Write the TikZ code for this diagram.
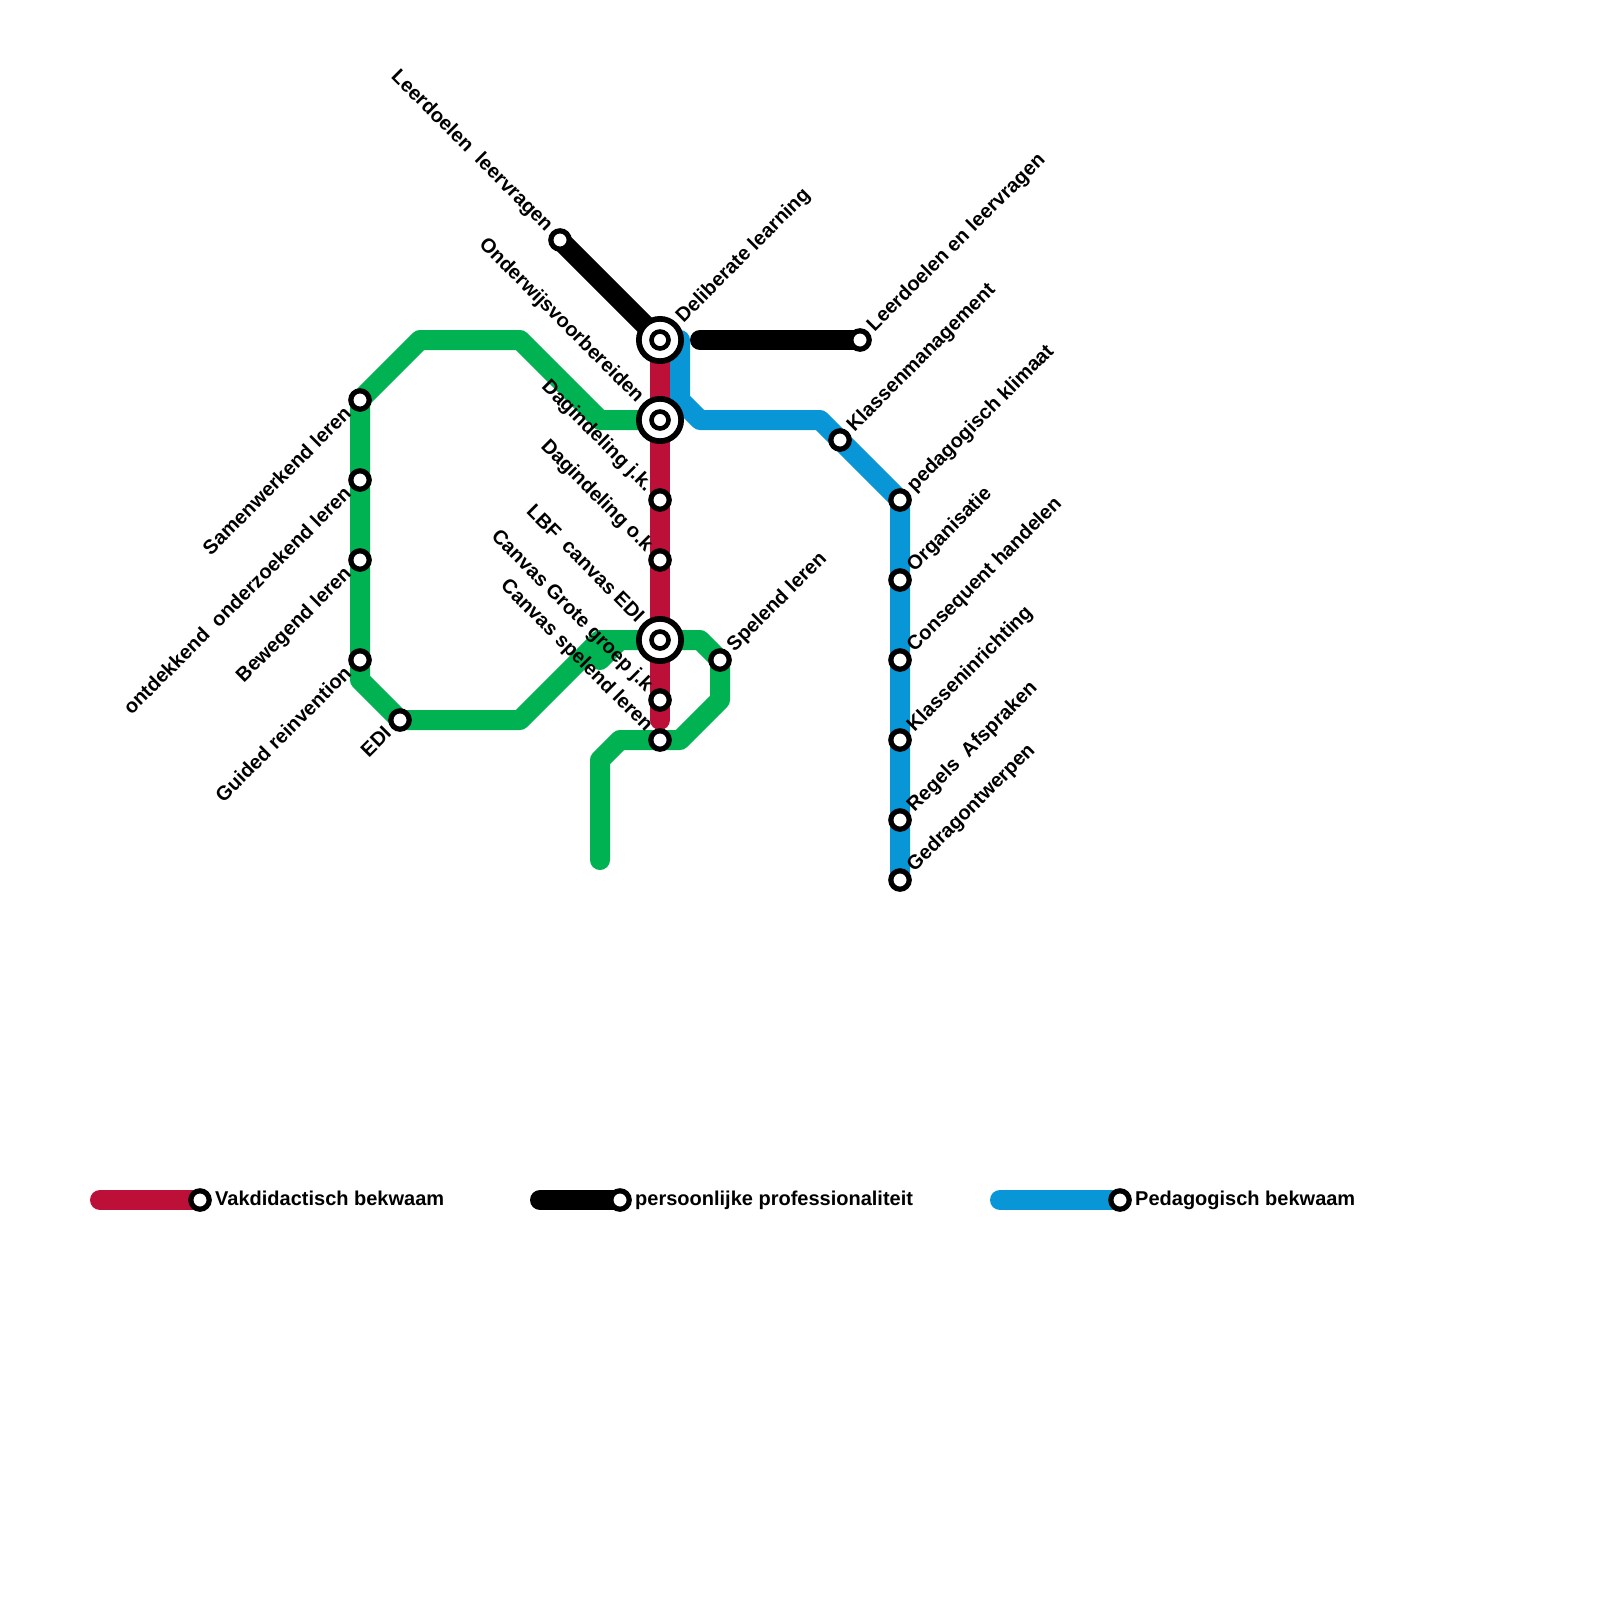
\documentclass[tikz,border=0pt]{standalone}
\usepackage{fontspec}
\setmainfont{Liberation Sans}[BoldFont={Liberation Sans Bold}]
\usetikzlibrary{backgrounds}
\definecolor{mred}{HTML}{BD1038}
\definecolor{mgreen}{HTML}{00B251}
\definecolor{mblue}{HTML}{0896D7}
\tikzset{
  stn/.style={circle,draw=black,fill=white,line width=5.2pt,minimum size=18.4pt,inner sep=0pt},
  hubo/.style={circle,draw=black,fill=white,line width=5.7pt,minimum size=42.3pt,inner sep=0pt},
  hubi/.style={circle,draw=black,fill=white,line width=4.6pt,minimum size=17pt,inner sep=0pt},
  metro/.style={line width=20pt,line cap=round,line join=round},
  lbl/.style={font=\bfseries\fontsize{20}{24}\selectfont,inner sep=0pt,text=black,text height=14pt,text depth=4pt},
  ur/.style={lbl,rotate=45,anchor=west},
  ul/.style={lbl,rotate=-45,anchor=east},
  dl/.style={lbl,rotate=45,anchor=east},
  lg/.style={lbl,anchor=west},
}
\begin{document}
\begin{tikzpicture}[x=1pt,y=-1pt]
\useasboundingbox (0,0) rectangle (1600,1600);
% stations
\node[stn] (sam) at (360,400) {};
\node[stn] (ont) at (360,480) {};
\node[stn] (bew) at (360,560) {};
\node[stn] (gui) at (360,660) {};
\node[stn] (edi) at (400,720) {};
\node[stn] (lee) at (560,240) {};
\node[hubo] (del) at (660,340) {};
\node[hubi] (deli) at (660,340) {};
\node[hubo] (ond) at (660,420) {};
\node[hubi] (ondi) at (660,420) {};
\node[stn] (dj) at (660,500) {};
\node[stn] (do) at (660,560) {};
\node[hubo] (lbf) at (660,640) {};
\node[hubi] (lbfi) at (660,640) {};
\node[stn] (cgg) at (660,700) {};
\node[stn] (csl) at (660,740) {};
\node[stn] (spl) at (720,660) {};
\node[stn] (lev) at (860,340) {};
\node[stn] (kla) at (840,440) {};
\node[stn] (ped) at (900,500) {};
\node[stn] (org) at (900,580) {};
\node[stn] (con) at (900,660) {};
\node[stn] (kin) at (900,740) {};
\node[stn] (reg) at (900,820) {};
\node[stn] (ged) at (900,880) {};
\node[stn] (lgr) at (200,1200) {};
\node[stn] (lgk) at (620,1200) {};
\node[stn] (lgb) at (1120,1200) {};
% waypoints
\coordinate (g0) at (360,680);
\coordinate (g1) at (420,340);
\coordinate (g2) at (520,340);
\coordinate (g3) at (600,420);
\coordinate (g4) at (520,720);
\coordinate (g5) at (600,640);
\coordinate (g6) at (600,660);
\coordinate (g7) at (620,640);
\coordinate (g8) at (700,640);
\coordinate (g9) at (720,700);
\coordinate (g10) at (680,740);
\coordinate (g11) at (620,740);
\coordinate (g12) at (600,760);
\coordinate (g13) at (600,860);
\coordinate (b1) at (680,340);
\coordinate (b2) at (680,400);
\coordinate (b3) at (700,420);
\coordinate (b4) at (820,420);
\coordinate (k1) at (700,340);
\coordinate (r1) at (660,720);
\coordinate (l1) at (100,1200);
\coordinate (l2) at (540,1200);
\coordinate (l3) at (1000,1200);
\begin{pgfonlayer}{background}
\draw[metro,mgreen] (ond.center) -- (g3) -- (g2) -- (g1) -- (sam.center) -- (ont.center) -- (bew.center) -- (gui.center) -- (g0) -- (edi.center) -- (g4) -- (g5) -- (lbf.center);
\draw[metro,mgreen] (g6) -- (g7);
\draw[metro,mgreen] (lbf.center) -- (g8) -- (spl.center) -- (g9) -- (g10) -- (csl.center) -- (g11) -- (g12) -- (g13);
\draw[metro,mblue] (b1) -- (b2) -- (b3) -- (b4) -- (kla.center) -- (ped.center) -- (ged.center);
\draw[metro,mred] (del.center) -- (r1);
\draw[metro,black] (lee.center) -- (del.center);
\draw[metro,black] (k1) -- (lev.center);
\draw[metro,mred] (l1) -- (lgr.center);
\draw[metro,black] (l2) -- (lgk.center);
\draw[metro,mblue] (l3) -- (lgb.center);
\end{pgfonlayer}
% labels
\node[dl] (tsam) at ([shift={(-11,11)}]sam.center) {Samenwerkend leren};
\node[dl] (tont) at ([shift={(-11,11)}]ont.center) {ontdekkend~~onderzoekend leren};
\node[dl] (tbew) at ([shift={(-11,11)}]bew.center) {Bewegend leren};
\node[dl] (tgui) at ([shift={(-11,11)}]gui.center) {Guided reinvention};
\node[dl] (tedi) at ([shift={(-11,11)}]edi.center) {EDI};
\node[ul] (tlee) at ([shift={(-11,-11)}]lee.center) {Leerdoelen~~leervragen};
\node[ul] (tond) at ([shift={(-20,-20)}]ond.center) {Onderwijsvoorbereiden};
\node[ul] (tdj) at ([shift={(-11,-11)}]dj.center) {Dagindeling j.k.};
\node[ul] (tdo) at ([shift={(-11,-11)}]do.center) {Dagindeling o.k};
\node[ul] (tlbf) at ([shift={(-20,-20)}]lbf.center) {LBF~~canvas EDI};
\node[ul] (tcgg) at ([shift={(-11,-11)}]cgg.center) {Canvas Grote groep j.k};
\node[ul] (tcsl) at ([shift={(-11,-11)}]csl.center) {Canvas spelend leren};
\node[ur] (tdel) at ([shift={(20,-20)}]del.center) {Deliberate learning};
\node[ur] (tspl) at ([shift={(11,-11)}]spl.center) {Spelend leren};
\node[ur] (tlev) at ([shift={(11,-11)}]lev.center) {Leerdoelen en leervragen};
\node[ur] (tkla) at ([shift={(11,-11)}]kla.center) {Klassenmanagement};
\node[ur] (tped) at ([shift={(11,-11)}]ped.center) {pedagogisch klimaat};
\node[ur] (torg) at ([shift={(11,-11)}]org.center) {Organisatie};
\node[ur] (tcon) at ([shift={(11,-11)}]con.center) {Consequent handelen};
\node[ur] (tkin) at ([shift={(11,-11)}]kin.center) {Klasseninrichting};
\node[ur] (treg) at ([shift={(11,-11)}]reg.center) {Regels~~Afspraken};
\node[ur] (tged) at ([shift={(11,-11)}]ged.center) {Gedragontwerpen};
\node[lg] (tlgr) at (215,1200) {Vakdidactisch bekwaam};
\node[lg] (tlgk) at (635,1200) {persoonlijke professionaliteit};
\node[lg] (tlgb) at (1135,1200) {Pedagogisch bekwaam};
\end{tikzpicture}
\end{document}
